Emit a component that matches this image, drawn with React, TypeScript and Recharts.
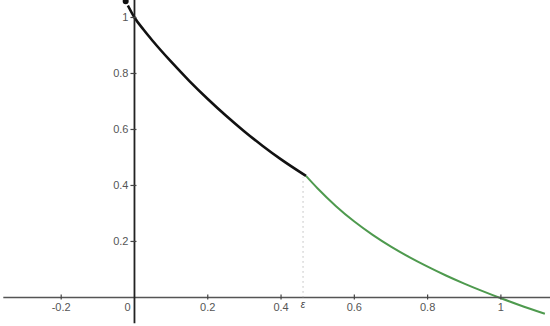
import React from "react";
import { ComposedChart, Line, XAxis, YAxis, ReferenceLine, ReferenceDot } from "recharts";

const blackX = [-0.024, 0, 0.025, 0.05, 0.1, 0.15, 0.2, 0.25, 0.3, 0.35, 0.4, 0.468];
const blackY = [1.058, 1.0, 0.956, 0.916, 0.842, 0.773, 0.709, 0.649, 0.593, 0.541, 0.493, 0.434];
const greenX = [0.468, 0.5, 0.55, 0.6, 0.65, 0.7, 0.75, 0.8, 0.85, 0.9, 0.95, 1.0, 1.05, 1.12];
const greenY = [0.434, 0.389, 0.326, 0.271, 0.2235, 0.1815, 0.144, 0.11, 0.0785, 0.0495, 0.0225, -0.003, -0.027, -0.0585];
const xTicks = [-0.2, 0, 0.2, 0.4, 0.6, 0.8, 1];
const xTickLabels = ["-0.2", "0", "0.2", "0.4", "0.6", "0.8", "1"];
const yTicks = [0.2, 0.4, 0.6, 0.8, 1];
const yTickLabels = ["0.2", "0.4", "0.6", "0.8", "1"];
const epsX = 0.46;
const epsY = 0.43;
const epsLabel = "ε";

const blackData = blackX.map((x, i) => ({ x, y: blackY[i] }));
const greenData = greenX.map((x, i) => ({ x, y: greenY[i] }));

const FONT = "'Liberation Sans', Arial, sans-serif";

export default function App() {
  return (
    <div style={{ position: "absolute", left: 0, top: 0, width: 550, height: 326, background: "#fff" }}>
      <ComposedChart width={550} height={326} margin={{ top: 0, right: 0, bottom: 0, left: 0 }}>
        <XAxis type="number" dataKey="x" domain={[-0.367, 1.134]} allowDataOverflow hide />
        <YAxis type="number" dataKey="y" domain={[-0.102, 1.0625]} allowDataOverflow hide />
        <Line
          data={greenData}
          dataKey="y"
          type="monotone"
          stroke="#4e9a4e"
          strokeWidth={2}
          dot={false}
          isAnimationActive={false}
        />
        <Line
          data={blackData}
          dataKey="y"
          type="monotone"
          stroke="#111"
          strokeWidth={2.6}
          dot={false}
          isAnimationActive={false}
        />
        <ReferenceLine
          segment={[{ x: -0.358, y: 0 }, { x: 1.134, y: 0 }]}
          stroke="#555"
          strokeWidth={1.6}
        />
        <ReferenceLine
          segment={[{ x: 0, y: -0.092 }, { x: 0, y: 1.0625 }]}
          stroke="#222"
          strokeWidth={1.8}
        />
        <ReferenceLine
          segment={[{ x: epsX, y: 0 }, { x: epsX, y: epsY }]}
          stroke="#999"
          strokeWidth={1}
          strokeDasharray="1 4"
        />
        {xTicks.map((t, i) => (
          <ReferenceDot
            key={"xt" + i}
            x={t}
            y={0}
            r={0}
            shape={(p: any) => (
              <g>
                {t !== 0 && <line x1={p.cx} x2={p.cx} y1={p.cy - 3} y2={p.cy + 2} stroke="#444" strokeWidth={1.2} />}
                <text
                  x={t === 0 ? p.cx - 7 : p.cx}
                  y={p.cy + 14}
                  textAnchor="middle"
                  fontSize={11}
                  fontFamily={FONT}
                  fill="#555"
                >
                  {xTickLabels[i]}
                </text>
              </g>
            )}
          />
        ))}
        {yTicks.map((t, i) => (
          <ReferenceDot
            key={"yt" + i}
            x={0}
            y={t}
            r={0}
            shape={(p: any) => (
              <g>
                <line x1={p.cx - 4} x2={p.cx + 2} y1={p.cy} y2={p.cy} stroke="#444" strokeWidth={1.2} />
                <text
                  x={p.cx - 6}
                  y={p.cy + 4}
                  textAnchor="end"
                  fontSize={11}
                  fontFamily={FONT}
                  fill="#555"
                >
                  {yTickLabels[i]}
                </text>
              </g>
            )}
          />
        ))}
        <ReferenceDot
          x={epsX}
          y={0}
          r={0}
          shape={(p: any) => (
            <text
              x={p.cx}
              y={p.cy + 11}
              textAnchor="middle"
              fontSize={10}
              fontStyle="italic"
              fontFamily={FONT}
              fill="#444"
            >
              {epsLabel}
            </text>
          )}
        />
      </ComposedChart>
    </div>
  );
}
